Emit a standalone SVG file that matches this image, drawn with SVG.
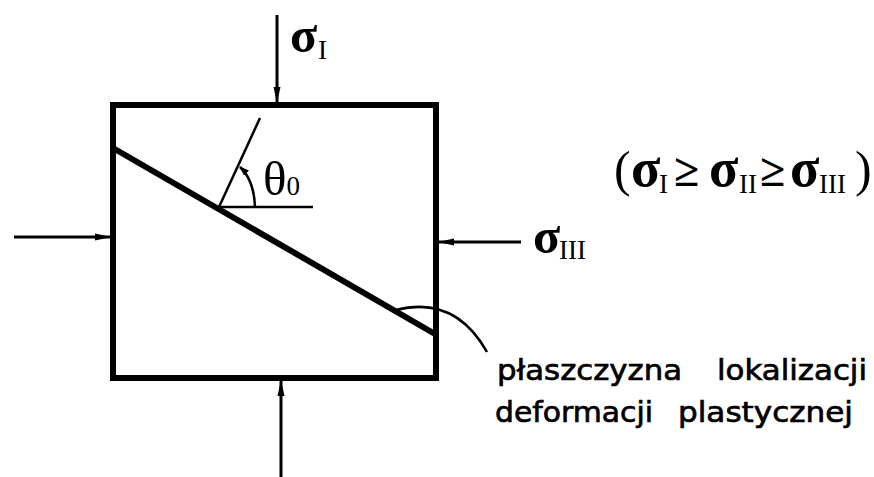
<svg xmlns="http://www.w3.org/2000/svg" width="874" height="477" viewBox="0 0 874 477">
<defs>
<marker id="ah" viewBox="0 0 16 10" refX="16" refY="5" markerWidth="16" markerHeight="10" markerUnits="userSpaceOnUse" orient="auto">
<path d="M0,1.5 L16,5 L0,8.5 Z" fill="#000"/>
</marker>
<marker id="ahs" viewBox="0 0 10 8" refX="9" refY="4" markerWidth="10" markerHeight="8" markerUnits="userSpaceOnUse" orient="auto">
<path d="M0,0.5 L10,4 L0,7.5 Z" fill="#000"/>
</marker>
<style>
.thick{fill:none;stroke:#000;stroke-width:6;stroke-linejoin:miter;stroke-linecap:square}
.arr{fill:none;stroke:#000;stroke-width:3;marker-end:url(#ah)}
.thin{fill:none;stroke:#000;stroke-width:2.5}
.sym{font-family:"Liberation Serif","Times New Roman",serif;fill:#000}
.sig{font-weight:bold;font-size:50px}
.big{font-weight:bold;font-size:54px}
.par{font-size:50px}
.rel{font-weight:bold;font-size:46px}
.sub{font-size:27px}
.lab{font-family:"DejaVu Sans","Liberation Sans",sans-serif;font-size:29px;fill:#000;stroke:#000;stroke-width:0.7}
</style>
</defs>
<g id="block">
<rect class="thick" x="113" y="105" width="323" height="273"/>
</g>
<g id="plane">
<line x1="113" y1="148" x2="435" y2="334" stroke="#000" stroke-width="6"/>
</g>
<g id="angle">
<line class="thin" x1="219" y1="207" x2="313" y2="207"/>
<line class="thin" x1="219" y1="207" x2="260" y2="118"/>
<path class="thin" d="M255,207 Q254,180 240,167" style="marker-end:url(#ahs)"/>
<text class="sym" x="263" y="195" font-size="49">θ<tspan class="sub" dy="0">0</tspan></text>
</g>
<g id="connectors">
<line class="arr" x1="277" y1="15" x2="277" y2="103"/>
<line class="arr" x1="14" y1="237" x2="111" y2="237"/>
<line class="arr" x1="521" y1="242" x2="438" y2="242"/>
<line class="arr" x1="281" y1="477" x2="281" y2="380"/>
<path class="thin" d="M396,310 Q455,295 487,352"/>
</g>
<g id="label-sigma1">
<text class="sym" x="290" y="52"><tspan class="sig">σ</tspan><tspan class="sub" x="318" dy="7">I</tspan></text>
</g>
<g id="label-sigma3">
<text class="sym" x="533" y="253"><tspan class="sig">σ</tspan><tspan class="sub" x="559" dy="6">III</tspan></text>
</g>
<g id="formula">
<text class="sym par" x="614" y="186">(</text>
<text class="sym big" x="631" y="186">σ</text>
<text class="sym sub" x="659" y="193">I</text>
<text class="sym rel" x="674" y="186">≥</text>
<text class="sym big" x="709" y="186">σ</text>
<text class="sym sub" x="739" y="193">II</text>
<text class="sym rel" x="760" y="186">≥</text>
<text class="sym big" x="790" y="186">σ</text>
<text class="sym sub" x="819" y="193">III</text>
<text class="sym par" x="855" y="186">)</text>
</g>
<g id="label-plane">
<text class="lab" y="380"><tspan x="497" textLength="185" lengthAdjust="spacingAndGlyphs">płaszczyzna</tspan><tspan x="717" textLength="150" lengthAdjust="spacingAndGlyphs">lokalizacji</tspan></text>
<text class="lab" y="422"><tspan x="495" textLength="158" lengthAdjust="spacingAndGlyphs">deformacji</tspan><tspan x="678" textLength="175" lengthAdjust="spacingAndGlyphs">plastycznej</tspan></text>
</g>
</svg>
